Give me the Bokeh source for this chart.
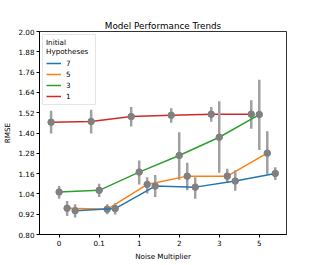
from bokeh.plotting import figure
from bokeh.models import (Range1d, FixedTicker, PrintfTickFormatter, Legend, LegendItem,
                          ColumnDataSource)
from bokeh.embed import file_html
from bokeh.resources import INLINE

# ---- data ----
categories = ["0", "0.1", "1", "2", "3", "5"]
hypotheses = ["1", "3", "5", "7"]
colors = {"1": "#d62728", "3": "#2ca02c", "5": "#ff7f0e", "7": "#1f77b4"}

rmse_1 = [1.464, 1.468, 1.497, 1.505, 1.511, 1.511]
lo_1 = [1.397, 1.397, 1.438, 1.460, 1.466, 1.425]
hi_1 = [1.532, 1.538, 1.554, 1.546, 1.554, 1.593]

rmse_3 = [1.051, 1.061, 1.169, 1.267, 1.375, 1.509]
lo_3 = [1.012, 1.022, 1.096, 1.124, 1.165, 1.299]
hi_3 = [1.086, 1.100, 1.238, 1.405, 1.587, 1.715]

rmse_5 = [0.955, 0.949, 1.096, 1.145, 1.145, 1.281]
lo_5 = [0.910, 0.920, 1.043, 1.061, 1.105, 1.154]
hi_5 = [0.998, 0.979, 1.139, 1.224, 1.189, 1.410]

rmse_7 = [0.941, 0.953, 1.086, 1.080, 1.116, 1.161]
lo_7 = [0.900, 0.918, 1.022, 1.012, 1.058, 1.122]
hi_7 = [0.979, 0.984, 1.151, 1.139, 1.180, 1.198]

y_ticks = [0.80, 0.92, 1.04, 1.16, 1.28, 1.40, 1.52, 1.64, 1.76, 1.88, 2.00]
legend_order = ["7", "5", "3", "1"]

series = {
    "1": (rmse_1, lo_1, hi_1),
    "3": (rmse_3, lo_3, hi_3),
    "5": (rmse_5, lo_5, hi_5),
    "7": (rmse_7, lo_7, hi_7),
}

FONT = "DejaVu Sans"
TXT = "#000000"
p = figure(frame_width=247, frame_height=203, output_backend="svg", toolbar_location=None,
           x_range=Range1d(-0.49, 5.68), y_range=Range1d(0.80, 2.00),
           min_border_left=31, min_border_right=24, min_border_top=31, min_border_bottom=22,
           title="Model Performance Trends")
p.title.align = "center"
p.title.text_font = FONT
p.title.text_font_size = "8.8px"
p.title.text_font_style = "normal"
p.title.text_color = TXT
p.title.offset = 0
p.title.standoff = 2

p.xgrid.visible = False
p.ygrid.visible = False
p.outline_line_color = "black"
p.outline_line_width = 1
p.outline_line_alpha = 0.8

for ax in (p.xaxis[0], p.yaxis[0]):
    ax.major_label_text_font = FONT
    ax.major_label_text_font_size = "7.2px"
    ax.major_label_text_color = TXT
    ax.axis_label_text_font = FONT
    ax.axis_label_text_font_size = "7.2px"
    ax.axis_label_text_font_style = "normal"
    ax.axis_label_text_color = TXT
    ax.minor_tick_line_color = None
    ax.major_tick_out = 3
    ax.major_tick_in = 0
    ax.major_tick_line_color = "black"
    ax.major_label_standoff = 2
    ax.axis_label_standoff = 3
    ax.axis_line_color = "black"

p.xaxis.axis_label = "Noise Multiplier"
p.yaxis.axis_label = "RMSE"
p.xaxis.ticker = FixedTicker(ticks=list(range(len(categories))))
p.xaxis.major_label_overrides = {i: c for i, c in enumerate(categories)}
p.yaxis.ticker = FixedTicker(ticks=y_ticks)
p.yaxis.formatter = PrintfTickFormatter(format="%.2f")

dodge_start, dodge_step = -0.2, 0.2
line_renderers = {}
for k, h in enumerate(hypotheses):
    vals, lo, hi = series[h]
    xs = [i + dodge_start + dodge_step * k for i in range(len(categories))]
    src = ColumnDataSource(dict(x=xs, y=vals, lo=lo, hi=hi))
    r = p.line("x", "y", source=src, line_color=colors[h], line_width=1.5)
    line_renderers[h] = r
    p.segment(x0="x", y0="lo", x1="x", y1="hi", source=src,
              line_color="#a0a0a0", line_width=2.5)
    p.scatter("x", "y", source=src, size=6.5, fill_color="#808080", line_color="#808080")

legend = Legend(items=[LegendItem(label=h, renderers=[line_renderers[h]]) for h in legend_order],
                location="top_left", title="Initial\nHypotheses")
legend.title_text_font = FONT
legend.title_text_font_size = "7.2px"
legend.title_text_font_style = "normal"
legend.title_text_color = TXT
legend.title_standoff = 2
legend.label_text_font = FONT
legend.label_text_font_size = "7.2px"
legend.label_text_color = TXT
legend.glyph_width = 15
legend.glyph_height = 10
legend.label_height = 10
legend.label_width = 26
legend.label_standoff = 5
legend.spacing = 1
legend.padding = 3
legend.margin = 3
legend.border_line_color = "#cccccc"
legend.border_line_width = 1
legend.background_fill_alpha = 0.8
p.add_layout(legend)

open("out.html", "w").write(file_html(p, INLINE))
